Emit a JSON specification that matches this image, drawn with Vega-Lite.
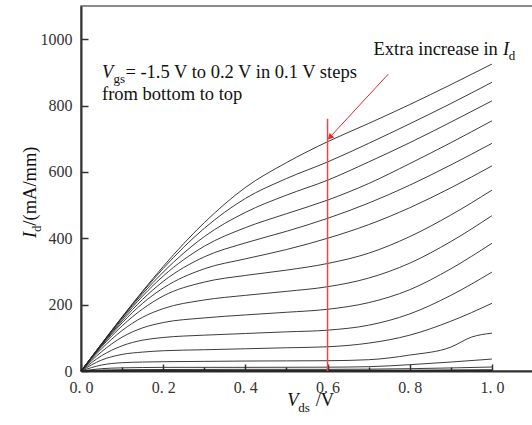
{
  "$schema": "https://vega.github.io/schema/vega-lite/v6.json",
  "width": 452,
  "height": 365,
  "autosize": {"type": "none"},
  "padding": {"left": 81, "top": 6, "right": 0, "bottom": 54},
  "background": "white",
  "config": {
    "view": {"stroke": "#666", "strokeWidth": 1.5},
    "font": "Liberation Serif",
    "axis": {"labelFont": "Liberation Serif", "titleFont": "Liberation Serif"}
  },
  "datasets": {
    "curves": [
      {"vgs": 0.2, "vds": 0, "id": 0}, {"vgs": 0.2, "vds": 0.05, "id": 82}, {"vgs": 0.2, "vds": 0.1, "id": 163}, {"vgs": 0.2, "vds": 0.15, "id": 241}, {"vgs": 0.2, "vds": 0.2, "id": 315}, {"vgs": 0.2, "vds": 0.3, "id": 447}, {"vgs": 0.2, "vds": 0.4, "id": 553}, {"vgs": 0.2, "vds": 0.5, "id": 628}, {"vgs": 0.2, "vds": 0.6, "id": 691}, {"vgs": 0.2, "vds": 0.7, "id": 746}, {"vgs": 0.2, "vds": 0.8, "id": 803}, {"vgs": 0.2, "vds": 0.9, "id": 863}, {"vgs": 0.2, "vds": 1.0, "id": 925},
      {"vgs": 0.1, "vds": 0, "id": 0}, {"vgs": 0.1, "vds": 0.05, "id": 82}, {"vgs": 0.1, "vds": 0.1, "id": 162}, {"vgs": 0.1, "vds": 0.15, "id": 238}, {"vgs": 0.1, "vds": 0.2, "id": 309}, {"vgs": 0.1, "vds": 0.3, "id": 430}, {"vgs": 0.1, "vds": 0.4, "id": 520}, {"vgs": 0.1, "vds": 0.5, "id": 580}, {"vgs": 0.1, "vds": 0.6, "id": 630}, {"vgs": 0.1, "vds": 0.7, "id": 686}, {"vgs": 0.1, "vds": 0.8, "id": 745}, {"vgs": 0.1, "vds": 0.9, "id": 806}, {"vgs": 0.1, "vds": 1.0, "id": 870},
      {"vgs": 0.0, "vds": 0, "id": 0}, {"vgs": 0.0, "vds": 0.05, "id": 81}, {"vgs": 0.0, "vds": 0.1, "id": 160}, {"vgs": 0.0, "vds": 0.15, "id": 233}, {"vgs": 0.0, "vds": 0.2, "id": 298}, {"vgs": 0.0, "vds": 0.3, "id": 405}, {"vgs": 0.0, "vds": 0.4, "id": 478}, {"vgs": 0.0, "vds": 0.5, "id": 530}, {"vgs": 0.0, "vds": 0.6, "id": 575}, {"vgs": 0.0, "vds": 0.7, "id": 630}, {"vgs": 0.0, "vds": 0.8, "id": 688}, {"vgs": 0.0, "vds": 0.9, "id": 750}, {"vgs": 0.0, "vds": 1.0, "id": 814},
      {"vgs": -0.1, "vds": 0, "id": 0}, {"vgs": -0.1, "vds": 0.05, "id": 80}, {"vgs": -0.1, "vds": 0.1, "id": 156}, {"vgs": -0.1, "vds": 0.15, "id": 226}, {"vgs": -0.1, "vds": 0.2, "id": 286}, {"vgs": -0.1, "vds": 0.3, "id": 376}, {"vgs": -0.1, "vds": 0.4, "id": 432}, {"vgs": -0.1, "vds": 0.5, "id": 474}, {"vgs": -0.1, "vds": 0.6, "id": 515}, {"vgs": -0.1, "vds": 0.7, "id": 565}, {"vgs": -0.1, "vds": 0.8, "id": 625}, {"vgs": -0.1, "vds": 0.9, "id": 688}, {"vgs": -0.1, "vds": 1.0, "id": 754},
      {"vgs": -0.2, "vds": 0, "id": 0}, {"vgs": -0.2, "vds": 0.05, "id": 78}, {"vgs": -0.2, "vds": 0.1, "id": 151}, {"vgs": -0.2, "vds": 0.15, "id": 216}, {"vgs": -0.2, "vds": 0.2, "id": 270}, {"vgs": -0.2, "vds": 0.3, "id": 344}, {"vgs": -0.2, "vds": 0.4, "id": 386}, {"vgs": -0.2, "vds": 0.5, "id": 421}, {"vgs": -0.2, "vds": 0.6, "id": 460}, {"vgs": -0.2, "vds": 0.7, "id": 506}, {"vgs": -0.2, "vds": 0.8, "id": 560}, {"vgs": -0.2, "vds": 0.9, "id": 621}, {"vgs": -0.2, "vds": 1.0, "id": 686},
      {"vgs": -0.3, "vds": 0, "id": 0}, {"vgs": -0.3, "vds": 0.05, "id": 76}, {"vgs": -0.3, "vds": 0.1, "id": 145}, {"vgs": -0.3, "vds": 0.15, "id": 204}, {"vgs": -0.3, "vds": 0.2, "id": 250}, {"vgs": -0.3, "vds": 0.3, "id": 308}, {"vgs": -0.3, "vds": 0.4, "id": 338}, {"vgs": -0.3, "vds": 0.5, "id": 366}, {"vgs": -0.3, "vds": 0.6, "id": 400}, {"vgs": -0.3, "vds": 0.7, "id": 441}, {"vgs": -0.3, "vds": 0.8, "id": 492}, {"vgs": -0.3, "vds": 0.9, "id": 552}, {"vgs": -0.3, "vds": 1.0, "id": 618},
      {"vgs": -0.4, "vds": 0, "id": 0}, {"vgs": -0.4, "vds": 0.05, "id": 73}, {"vgs": -0.4, "vds": 0.1, "id": 136}, {"vgs": -0.4, "vds": 0.15, "id": 187}, {"vgs": -0.4, "vds": 0.2, "id": 226}, {"vgs": -0.4, "vds": 0.3, "id": 268}, {"vgs": -0.4, "vds": 0.4, "id": 288}, {"vgs": -0.4, "vds": 0.5, "id": 304}, {"vgs": -0.4, "vds": 0.6, "id": 324}, {"vgs": -0.4, "vds": 0.7, "id": 355}, {"vgs": -0.4, "vds": 0.8, "id": 405}, {"vgs": -0.4, "vds": 0.9, "id": 470}, {"vgs": -0.4, "vds": 1.0, "id": 545},
      {"vgs": -0.5, "vds": 0, "id": 0}, {"vgs": -0.5, "vds": 0.05, "id": 67}, {"vgs": -0.5, "vds": 0.1, "id": 122}, {"vgs": -0.5, "vds": 0.15, "id": 162}, {"vgs": -0.5, "vds": 0.2, "id": 188}, {"vgs": -0.5, "vds": 0.3, "id": 214}, {"vgs": -0.5, "vds": 0.4, "id": 228}, {"vgs": -0.5, "vds": 0.5, "id": 240}, {"vgs": -0.5, "vds": 0.6, "id": 254}, {"vgs": -0.5, "vds": 0.7, "id": 280}, {"vgs": -0.5, "vds": 0.8, "id": 325}, {"vgs": -0.5, "vds": 0.9, "id": 390}, {"vgs": -0.5, "vds": 1.0, "id": 468},
      {"vgs": -0.6, "vds": 0, "id": 0}, {"vgs": -0.6, "vds": 0.05, "id": 58}, {"vgs": -0.6, "vds": 0.1, "id": 102}, {"vgs": -0.6, "vds": 0.15, "id": 130}, {"vgs": -0.6, "vds": 0.2, "id": 146}, {"vgs": -0.6, "vds": 0.3, "id": 160}, {"vgs": -0.6, "vds": 0.4, "id": 169}, {"vgs": -0.6, "vds": 0.5, "id": 177}, {"vgs": -0.6, "vds": 0.6, "id": 186}, {"vgs": -0.6, "vds": 0.7, "id": 206}, {"vgs": -0.6, "vds": 0.8, "id": 245}, {"vgs": -0.6, "vds": 0.9, "id": 308}, {"vgs": -0.6, "vds": 1.0, "id": 385},
      {"vgs": -0.7, "vds": 0, "id": 0}, {"vgs": -0.7, "vds": 0.05, "id": 46}, {"vgs": -0.7, "vds": 0.1, "id": 76}, {"vgs": -0.7, "vds": 0.15, "id": 93}, {"vgs": -0.7, "vds": 0.2, "id": 101}, {"vgs": -0.7, "vds": 0.3, "id": 108}, {"vgs": -0.7, "vds": 0.4, "id": 113}, {"vgs": -0.7, "vds": 0.5, "id": 118}, {"vgs": -0.7, "vds": 0.6, "id": 123}, {"vgs": -0.7, "vds": 0.7, "id": 138}, {"vgs": -0.7, "vds": 0.8, "id": 172}, {"vgs": -0.7, "vds": 0.9, "id": 228}, {"vgs": -0.7, "vds": 1.0, "id": 298},
      {"vgs": -0.8, "vds": 0, "id": 0}, {"vgs": -0.8, "vds": 0.05, "id": 33}, {"vgs": -0.8, "vds": 0.1, "id": 50}, {"vgs": -0.8, "vds": 0.15, "id": 57}, {"vgs": -0.8, "vds": 0.2, "id": 61}, {"vgs": -0.8, "vds": 0.3, "id": 64}, {"vgs": -0.8, "vds": 0.4, "id": 67}, {"vgs": -0.8, "vds": 0.5, "id": 70}, {"vgs": -0.8, "vds": 0.6, "id": 73}, {"vgs": -0.8, "vds": 0.7, "id": 84}, {"vgs": -0.8, "vds": 0.8, "id": 108}, {"vgs": -0.8, "vds": 0.9, "id": 150}, {"vgs": -0.8, "vds": 1.0, "id": 204},
      {"vgs": -0.9, "vds": 0, "id": 0}, {"vgs": -0.9, "vds": 0.05, "id": 18}, {"vgs": -0.9, "vds": 0.1, "id": 25}, {"vgs": -0.9, "vds": 0.15, "id": 27}, {"vgs": -0.9, "vds": 0.2, "id": 28}, {"vgs": -0.9, "vds": 0.3, "id": 29}, {"vgs": -0.9, "vds": 0.4, "id": 30}, {"vgs": -0.9, "vds": 0.5, "id": 30.5}, {"vgs": -0.9, "vds": 0.6, "id": 31}, {"vgs": -0.9, "vds": 0.7, "id": 34}, {"vgs": -0.9, "vds": 0.8, "id": 48}, {"vgs": -0.9, "vds": 0.9, "id": 72}, {"vgs": -0.9, "vds": 0.95, "id": 102}, {"vgs": -0.9, "vds": 1.0, "id": 114},
      {"vgs": -1.0, "vds": 0, "id": 0}, {"vgs": -1.0, "vds": 0.05, "id": 7}, {"vgs": -1.0, "vds": 0.1, "id": 9.5}, {"vgs": -1.0, "vds": 0.15, "id": 10.5}, {"vgs": -1.0, "vds": 0.2, "id": 11}, {"vgs": -1.0, "vds": 0.4, "id": 11}, {"vgs": -1.0, "vds": 0.6, "id": 11.5}, {"vgs": -1.0, "vds": 0.7, "id": 13}, {"vgs": -1.0, "vds": 0.8, "id": 19}, {"vgs": -1.0, "vds": 0.9, "id": 27}, {"vgs": -1.0, "vds": 1.0, "id": 36},
      {"vgs": -1.1, "vds": 0, "id": 0}, {"vgs": -1.1, "vds": 0.05, "id": 3}, {"vgs": -1.1, "vds": 0.1, "id": 4}, {"vgs": -1.1, "vds": 0.2, "id": 4.5}, {"vgs": -1.1, "vds": 0.4, "id": 5}, {"vgs": -1.1, "vds": 0.6, "id": 5}, {"vgs": -1.1, "vds": 0.8, "id": 7}, {"vgs": -1.1, "vds": 1.0, "id": 12},
      {"vgs": -1.2, "vds": 0, "id": 0}, {"vgs": -1.2, "vds": 0.05, "id": 1}, {"vgs": -1.2, "vds": 0.1, "id": 1.5}, {"vgs": -1.2, "vds": 0.2, "id": 1.8}, {"vgs": -1.2, "vds": 0.6, "id": 2}, {"vgs": -1.2, "vds": 0.8, "id": 2.6}, {"vgs": -1.2, "vds": 1.0, "id": 4},
      {"vgs": -1.3, "vds": 0, "id": 0}, {"vgs": -1.3, "vds": 0.1, "id": 0.6}, {"vgs": -1.3, "vds": 0.2, "id": 0.7}, {"vgs": -1.3, "vds": 0.6, "id": 0.8}, {"vgs": -1.3, "vds": 1.0, "id": 1.5},
      {"vgs": -1.4, "vds": 0, "id": 0}, {"vgs": -1.4, "vds": 0.1, "id": 0.3}, {"vgs": -1.4, "vds": 0.6, "id": 0.4}, {"vgs": -1.4, "vds": 1.0, "id": 0.6},
      {"vgs": -1.5, "vds": 0, "id": 0}, {"vgs": -1.5, "vds": 0.1, "id": 0.1}, {"vgs": -1.5, "vds": 1.0, "id": 0.3}
    ]
  },
  "layer": [
    {
      "data": {"name": "curves"},
      "mark": {"type": "line", "color": "#262626", "strokeWidth": 0.9, "interpolate": "monotone"},
      "encoding": {
        "x": {
          "field": "vds", "type": "quantitative",
          "scale": {"domain": [0, 1.1], "nice": false, "zero": false},
          "axis": {
            "values": [0, 0.1, 0.2, 0.3, 0.4, 0.5, 0.6, 0.7, 0.8, 0.9, 1.0],
            "labelExpr": "round(datum.value * 10) % 2 == 0 ? replace(format(datum.value, '.1f'), '.', '. ') : ''",
            "tickSize": {"condition": {"test": "round(datum.value * 10) % 2 == 0", "value": -7}, "value": -4},
            "grid": false, "title": null,
            "domainColor": "#333", "domainWidth": 2,
            "tickColor": "#333", "tickWidth": 1.5,
            "labelFont": "Liberation Serif", "labelFontSize": 16, "labelColor": "#333",
            "labelPadding": 15, "labelFlush": false, "labelOverlap": false
          }
        },
        "y": {
          "field": "id", "type": "quantitative",
          "scale": {"domain": [0, 1100], "nice": false},
          "axis": {
            "values": [0, 100, 200, 300, 400, 500, 600, 700, 800, 900, 1000],
            "labelExpr": "datum.value % 200 == 0 ? datum.label : ''",
            "format": "d",
            "tickSize": {"condition": {"test": "datum.value % 200 == 0", "value": -7}, "value": -4},
            "grid": false, "title": null,
            "domainColor": "#333", "domainWidth": 2,
            "tickColor": "#333", "tickWidth": 1.5,
            "labelFont": "Liberation Serif", "labelFontSize": 16, "labelColor": "#333",
            "labelPadding": 16, "labelFlush": false, "labelOverlap": false
          }
        },
        "detail": {"field": "vgs", "type": "nominal"}
      }
    },
    {
      "data": {"values": [{"vds": 0.6, "lo": 0, "hi": 760}]},
      "mark": {"type": "rule", "color": "#e8474c", "strokeWidth": 1.5},
      "encoding": {
        "x": {"field": "vds", "type": "quantitative"},
        "y": {"field": "lo", "type": "quantitative"},
        "y2": {"field": "hi"}
      }
    },
    {
      "data": {"values": [{"vds": 0.748, "id": 895}, {"vds": 0.603, "id": 701}]},
      "mark": {"type": "line", "color": "#e8292b", "strokeWidth": 1},
      "encoding": {
        "x": {"field": "vds", "type": "quantitative"},
        "y": {"field": "id", "type": "quantitative"}
      }
    },
    {
      "data": {"values": [{"vds": 0.6058, "id": 704}]},
      "mark": {"type": "point", "shape": "triangle-up", "filled": true, "color": "#e8292b", "opacity": 1, "size": 45, "angle": 223},
      "encoding": {
        "x": {"field": "vds", "type": "quantitative"},
        "y": {"field": "id", "type": "quantitative"}
      }
    },
    {
      "data": {"values": [
        {"x": 0.0512, "y": 883, "t": "V"},
        {"x": 1.027, "y": 952, "t": "I"},
        {"x": 0.502, "y": -105.5, "t": "V"}
      ]},
      "mark": {"type": "text", "font": "Liberation Serif", "fontSize": 18.5, "fontStyle": "italic", "align": "left", "baseline": "alphabetic", "color": "#111"},
      "encoding": {
        "x": {"field": "x", "type": "quantitative"},
        "y": {"field": "y", "type": "quantitative"},
        "text": {"field": "t"}
      }
    },
    {
      "data": {"values": [
        {"x": 0.108, "y": 883, "t": "= -1.5 V to 0.2 V in 0.1 V steps"},
        {"x": 0.0512, "y": 817, "t": "from bottom to top"},
        {"x": 0.712, "y": 952, "t": "Extra increase in"},
        {"x": 0.571, "y": -105.5, "t": "/V"}
      ]},
      "mark": {"type": "text", "font": "Liberation Serif", "fontSize": 18.5, "align": "left", "baseline": "alphabetic", "color": "#111"},
      "encoding": {
        "x": {"field": "x", "type": "quantitative"},
        "y": {"field": "y", "type": "quantitative"},
        "text": {"field": "t"}
      }
    },
    {
      "data": {"values": [
        {"x": 0.079, "y": 868, "t": "gs"},
        {"x": 1.041, "y": 937, "t": "d"},
        {"x": 0.529, "y": -123.5, "t": "ds"}
      ]},
      "mark": {"type": "text", "font": "Liberation Serif", "fontSize": 13, "align": "left", "baseline": "alphabetic", "color": "#111"},
      "encoding": {
        "x": {"field": "x", "type": "quantitative"},
        "y": {"field": "y", "type": "quantitative"},
        "text": {"field": "t"}
      }
    },
    {
      "data": {"values": [{"x": -0.11, "y": 401, "t": "I"}]},
      "mark": {"type": "text", "font": "Liberation Serif", "fontSize": 18.5, "fontStyle": "italic", "angle": 270, "align": "left", "baseline": "alphabetic", "color": "#111"},
      "encoding": {
        "x": {"field": "x", "type": "quantitative"},
        "y": {"field": "y", "type": "quantitative"},
        "text": {"field": "t"}
      }
    },
    {
      "data": {"values": [{"x": -0.0976, "y": 419, "t": "d"}]},
      "mark": {"type": "text", "font": "Liberation Serif", "fontSize": 13, "angle": 270, "align": "left", "baseline": "alphabetic", "color": "#111"},
      "encoding": {
        "x": {"field": "x", "type": "quantitative"},
        "y": {"field": "y", "type": "quantitative"},
        "text": {"field": "t"}
      }
    },
    {
      "data": {"values": [{"x": -0.11, "y": 438, "t": "/(mA/mm)"}]},
      "mark": {"type": "text", "font": "Liberation Serif", "fontSize": 18.5, "angle": 270, "align": "left", "baseline": "alphabetic", "color": "#111"},
      "encoding": {
        "x": {"field": "x", "type": "quantitative"},
        "y": {"field": "y", "type": "quantitative"},
        "text": {"field": "t"}
      }
    }
  ]
}
